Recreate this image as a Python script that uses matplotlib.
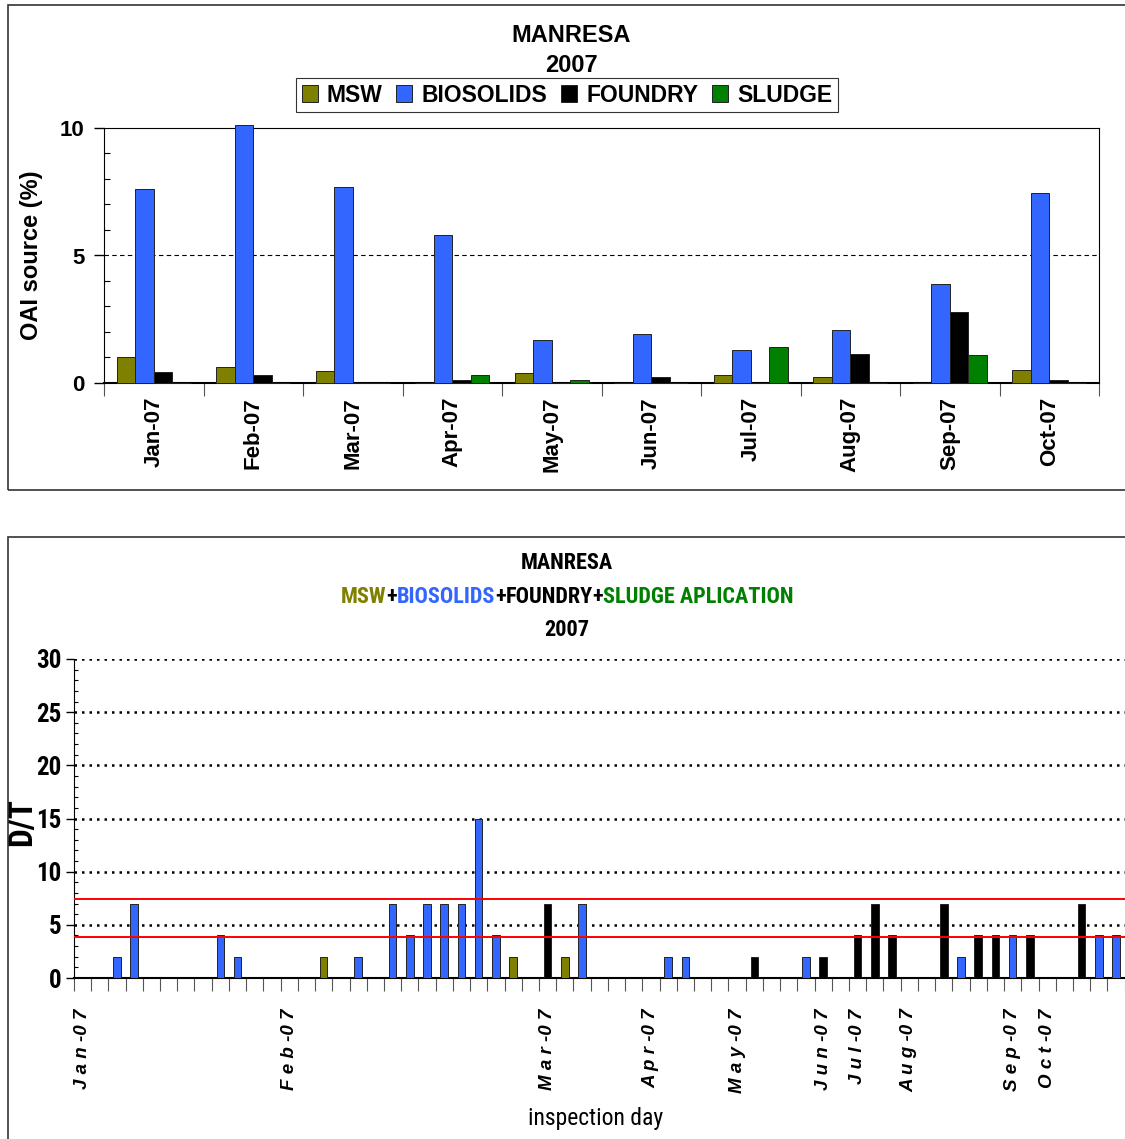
import matplotlib
matplotlib.use("Agg")
import matplotlib.pyplot as plt
from matplotlib.patches import Rectangle
from matplotlib.ticker import MultipleLocator, FixedLocator
import numpy as np

plt.rcParams['font.family'] = ['Liberation Sans', 'DejaVu Sans']
NARROW = ['Roboto Condensed', 'Liberation Sans', 'DejaVu Sans']

# monthly OAI source (%)
months = ['Jan-07', 'Feb-07', 'Mar-07', 'Apr-07', 'May-07',
          'Jun-07', 'Jul-07', 'Aug-07', 'Sep-07', 'Oct-07']
msw = [1.02, 0.63, 0.46, 0, 0.41, 0, 0.31, 0.22, 0, 0.50]
biosolids = [7.6, 10.1, 7.68, 5.79, 1.68, 1.91, 1.28, 2.09, 3.9, 7.47]
foundry = [0.42, 0.33, 0, 0.1, 0, 0.22, 0, 1.13, 2.8, 0.1]
sludge = [0, 0, 0, 0.31, 0.1, 0, 1.41, 0, 1.11, 0]

# inspection days: D/T value and source (B biosolids, M msw, F foundry, - none)
dt_values = [0, 0, 2, 7, 0, 0, 0, 0, 4, 2,
             0, 0, 0, 0, 2, 0, 2, 0, 7, 4,
             7, 7, 7, 15, 4, 2, 0, 7, 2, 7,
             0, 0, 0, 0, 2, 2, 0, 0, 0, 2,
             0, 0, 2, 2, 0, 4, 7, 4, 0, 0,
             7, 2, 4, 4, 4, 4, 0, 0, 7, 4, 4]
dt_source = list("--BB----BB" "----M-B-BB" "BBBBBM-FMB"
                 "----BB---F" "--BF-FFF--" "FBFFBF--FBB")
day_ticks = [0, 12, 27, 33, 38, 43, 45, 48, 54, 56]
day_tick_labels = ['J a n -0 7', 'F e b -0 7', 'M a r -0 7', 'A p r -0 7', 'M a y -0 7',
                   'J u n -0 7', 'J u l -0 7', 'A u g -0 7', 'S e p -0 7', 'O c t -0 7']
limit_high = 7.4
limit_low = 3.9

colors = {'M': '#808000', 'B': '#3366FF', 'F': '#000000', 'S': '#008000'}

W, H = 1125, 1139
fig = plt.figure(figsize=(W / 100, H / 100), dpi=100)

# outer chart frames
fig.patches.append(Rectangle((8 / W, 1 - 490 / H), 1.2, 485 / H, transform=fig.transFigure,
                             fill=False, lw=1.2, ec='#333333'))
fig.patches.append(Rectangle((8 / W, -0.1), 1.2, (1 - 537 / H) + 0.1, transform=fig.transFigure,
                             fill=False, lw=1.2, ec='#333333'))

# ---- top chart ----
ax1 = fig.add_axes([104 / W, 1 - 383 / H, 995 / W, 255 / H])
x = np.arange(len(months))
bw = 0.186
series = [('MSW', msw, 'M'), ('BIOSOLIDS', biosolids, 'B'),
          ('FOUNDRY', foundry, 'F'), ('SLUDGE', sludge, 'S')]
handles = []
for k, (name, vals, code) in enumerate(series):
    b = ax1.bar(x + (k - 1.5) * bw, vals, bw, color=colors[code], edgecolor='#222222',
                linewidth=0.7, label=name, clip_on=False, zorder=3)
    handles.append(b)
ax1.set_xlim(-0.5, len(months) - 0.5)
ax1.set_ylim(0, 10)
ax1.yaxis.set_major_locator(FixedLocator([0, 5, 10]))
ax1.yaxis.set_minor_locator(MultipleLocator(1))
ax1.axhline(5, color='black', lw=0.8, ls=(0, (4, 3)), zorder=1)
ax1.tick_params(axis='y', which='major', length=7, labelsize=16, width=1, pad=7)
ax1.tick_params(axis='y', which='minor', length=4, direction='in', width=0.8)
for t in ax1.get_yticklabels():
    t.set_fontweight('bold')
ax1.xaxis.set_major_locator(FixedLocator(np.arange(-0.5, len(months), 1.0)))
ax1.xaxis.set_minor_locator(FixedLocator(x))
ax1.set_xticklabels([], minor=False)
ax1.set_xticklabels(months, minor=True, rotation=90, fontsize=16, fontweight='bold')
ax1.tick_params(axis='x', which='major', length=9, color='#555555')
ax1.tick_params(axis='x', which='minor', length=0, pad=10)
ax1.set_ylabel('OAI source (%)', fontsize=17, fontweight='bold', labelpad=12)
for s in ['top', 'right']:
    ax1.spines[s].set_linewidth(0.8)
ax1.spines['bottom'].set_linewidth(1.5)

fig.text(571 / W, 1 - 36 / H, 'MANRESA', ha='center', va='center', fontsize=17, fontweight='bold')
fig.text(571 / W, 1 - 65 / H, '2007', ha='center', va='center', fontsize=17, fontweight='bold')
leg = fig.legend(handles=handles, loc='center', bbox_to_anchor=(567 / W, 1 - 95 / H), ncol=4,
                 frameon=True, fancybox=False, edgecolor='black', handlelength=0.7,
                 handleheight=0.7, handletextpad=0.4, columnspacing=0.6, borderpad=0.25,
                 prop={'weight': 'bold', 'size': 16.5})
leg.get_frame().set_linewidth(0.8)

# ---- bottom chart ----
ax2 = fig.add_axes([73.9 / W, 1 - 978 / H, 0.934, 319 / H])
xd = np.arange(len(dt_values))
for i, (v, s) in enumerate(zip(dt_values, dt_source)):
    if s == '-':
        continue
    ax2.bar(xd[i], v, 0.44, color=colors[s], edgecolor='#222222', linewidth=0.7, zorder=3)
ax2.axhline(limit_high, color='red', lw=1.4, zorder=4)
ax2.axhline(limit_low, color='red', lw=1.4, zorder=4)
ax2.set_xlim(-0.5, len(dt_values) - 0.5)
ax2.set_ylim(0, 30)
ax2.yaxis.set_major_locator(MultipleLocator(5))
ax2.yaxis.set_minor_locator(MultipleLocator(1))
ax2.grid(axis='y', which='major', color='black', ls=(0, (1, 2)), lw=1.8, zorder=1)
ax2.tick_params(axis='y', which='major', length=6, width=1, labelsize=18, pad=3)
ax2.tick_params(axis='y', which='minor', length=3, direction='in', width=0.8)
for t in ax2.get_yticklabels():
    t.set_fontweight('bold')
    t.set_family(NARROW)
ax2.xaxis.set_major_locator(FixedLocator(np.arange(-0.5, len(dt_values), 1.0)))
ax2.xaxis.set_minor_locator(FixedLocator(day_ticks))
ax2.set_xticklabels([], minor=False)
ax2.set_xticklabels(day_tick_labels, minor=True, rotation=90, fontsize=13.5,
                    fontweight='bold', fontstyle='italic')
ax2.tick_params(axis='x', which='major', length=9, color='#555555')
ax2.tick_params(axis='x', which='minor', length=0, pad=22)
ax2.spines['top'].set_visible(False)
ax2.spines['right'].set_visible(False)
ax2.spines['bottom'].set_linewidth(1.5)
ax2.set_ylabel('D/T', fontsize=24, fontweight='bold', family=NARROW)
ax2.yaxis.set_label_coords(-0.034, 0.49)
ax2.set_xlabel('inspection day', fontsize=17, family=NARROW)
ax2.xaxis.set_label_coords(0.497, -0.405)

fig.text(567 / W, 1 - 563 / H, 'MANRESA', ha='center', va='center', fontsize=16,
         fontweight='bold', family=NARROW)
fig.text(567 / W, 1 - 630 / H, '2007', ha='center', va='center', fontsize=16,
         fontweight='bold', family=NARROW)

# multi-coloured subtitle line
parts = [('MSW', colors['M']), ('+', 'black'), ('BIOSOLIDS', colors['B']), ('+', 'black'),
         ('FOUNDRY', 'black'), ('+', 'black'), ('SLUDGE APLICATION', colors['S'])]
renderer = fig.canvas.get_renderer()
texts = []
for txt, c in parts:
    t = fig.text(0, 1 - 597 / H, txt, color=c, ha='left', va='center', fontsize=16,
                 fontweight='bold', family=NARROW)
    texts.append(t)
widths = [t.get_window_extent(renderer).width for t in texts]
xpos = 567 - sum(widths) / 2
for t, w in zip(texts, widths):
    t.set_x(xpos / W)
    xpos += w

fig.savefig('out.png', dpi=100)
